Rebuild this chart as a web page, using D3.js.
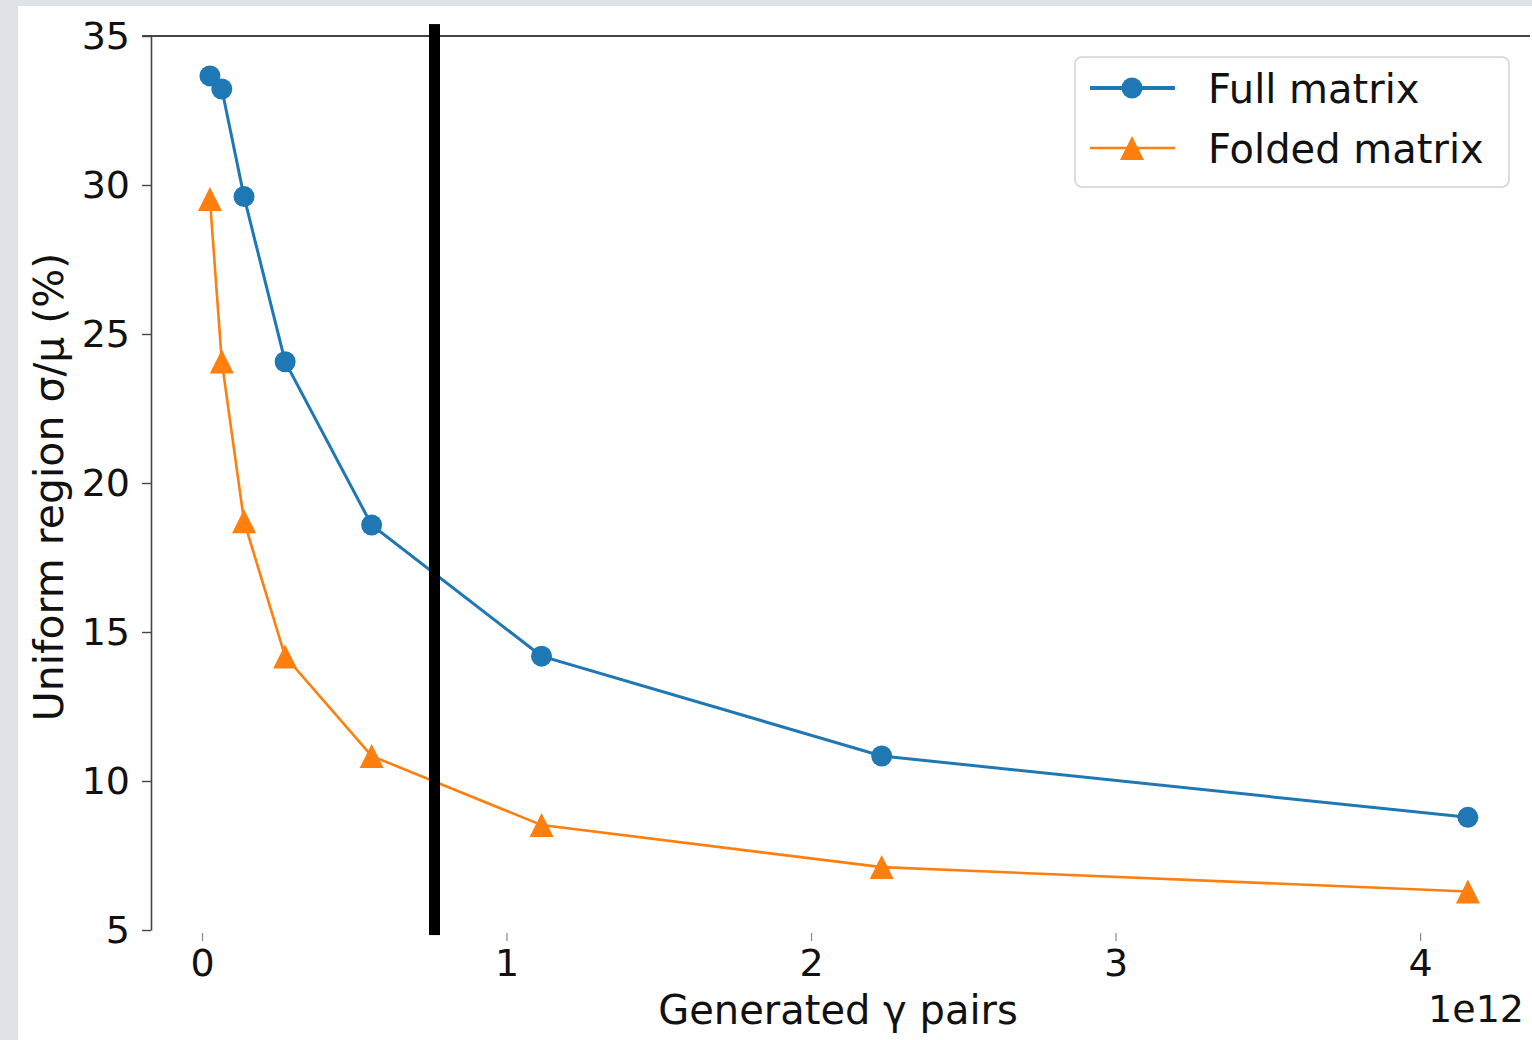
<!DOCTYPE html>
<html>
<head>
<meta charset="utf-8">
<script src="https://cdn.jsdelivr.net/npm/d3@7"></script>
<style>
  html, body { margin: 0; padding: 0; background: #dfe2e6; }
  svg { display: block; }
  text { font-family: "DejaVu Sans", sans-serif; fill: #111; }
</style>
</head>
<body>
<svg id="chart" width="1532" height="1040"></svg>
<script>
// Generated photon pairs (units of 1e12)
const generatedPairs = [0.026, 0.065, 0.138, 0.273, 0.557, 1.115, 2.232, 4.157];
// Uniform-region sigma/mu (%) for each reconstruction
const fullMatrix   = [33.66, 33.22, 29.61, 24.07, 18.59, 14.19, 10.84, 8.78];
const foldedMatrix = [29.53, 24.08, 18.72, 14.18, 10.84, 8.52, 7.11, 6.29];
const seriesNames  = ["Full matrix", "Folded matrix"];
const xTicks = [0, 1, 2, 3, 4];
const yTicks = [5, 10, 15, 20, 25, 30, 35];
// Reference cut marked by the vertical bar
const cutoffX = [0.7635];
const cutoffSpan = [4.83, 35.4];

const svg = d3.select("#chart");
const W = 1532, H = 1040;

// panel background
svg.append("rect").attr("x", 0).attr("y", 0).attr("width", W).attr("height", H).attr("fill", "#dfe2e6");
svg.append("rect").attr("x", 18).attr("y", 6).attr("width", W - 18).attr("height", H - 6).attr("fill", "#ffffff");

const x = d3.scaleLinear().domain([-0.1675, 4.361]).range([151, 1530]);
const y = d3.scaleLinear().domain([5, 35]).range([930, 36]);

const blue = "#1f77b4", orange = "#ff7f0e";

// y axis
const yAxis = svg.append("g")
  .attr("transform", `translate(${x.range()[0]},0)`)
  .call(d3.axisLeft(y).tickValues(yTicks).tickSize(9).tickSizeOuter(0).tickPadding(12));
yAxis.select(".domain").attr("stroke", "#444").attr("stroke-width", 1.6);
yAxis.selectAll(".tick line").attr("stroke", "#444").attr("stroke-width", 1.4);
yAxis.selectAll(".tick text").style("font-size", "38px").attr("fill", "#111");

// top spine
svg.append("line")
  .attr("x1", x.range()[0] - 9).attr("x2", x.range()[1])
  .attr("y1", y(35)).attr("y2", y(35))
  .attr("stroke", "#444").attr("stroke-width", 1.8);

// x axis (tick marks and labels only)
const xAxis = svg.append("g")
  .attr("transform", `translate(0,${y(5) + 3})`)
  .call(d3.axisBottom(x).tickValues(xTicks).tickSize(8).tickPadding(8).tickFormat(d3.format("d")));
xAxis.select(".domain").remove();
xAxis.selectAll(".tick line").attr("stroke", "#888").attr("stroke-width", 1.2);
xAxis.selectAll(".tick text").style("font-size", "38px").attr("fill", "#111");

// axis titles
svg.append("text")
  .attr("x", 838).attr("y", 1024)
  .attr("text-anchor", "middle")
  .style("font-size", "40px")
  .text("Generated γ pairs");
svg.append("text")
  .attr("transform", "translate(63,487) rotate(-90)")
  .attr("text-anchor", "middle")
  .style("font-size", "41px")
  .text("Uniform region σ/μ (%)");
svg.append("text")
  .attr("x", 1524).attr("y", 1022)
  .attr("text-anchor", "end")
  .style("font-size", "38px")
  .text("1e12");

const line = d3.line().x(d => x(d[0])).y(d => y(d[1]));
const fullPts = generatedPairs.map((v, i) => [v, fullMatrix[i]]);
const foldedPts = generatedPairs.map((v, i) => [v, foldedMatrix[i]]);

svg.append("path").datum(fullPts).attr("d", line)
  .attr("fill", "none").attr("stroke", blue).attr("stroke-width", 3);
svg.append("path").datum(foldedPts).attr("d", line)
  .attr("fill", "none").attr("stroke", orange).attr("stroke-width", 2.6);

svg.append("g").selectAll("circle").data(fullPts).join("circle")
  .attr("cx", d => x(d[0])).attr("cy", d => y(d[1])).attr("r", 10.5)
  .attr("fill", blue);

const tri = d => { const s = 12; return `M0,${-s}L${s},${s}L${-s},${s}Z`; };
svg.append("g").selectAll("path").data(foldedPts).join("path")
  .attr("transform", d => `translate(${x(d[0])},${y(d[1])})`)
  .attr("d", tri)
  .attr("fill", orange);

// vertical cut bar
svg.append("g").selectAll("rect").data(cutoffX).join("rect")
  .attr("x", d => x(d) - 5.5).attr("width", 11)
  .attr("y", y(cutoffSpan[1])).attr("height", y(cutoffSpan[0]) - y(cutoffSpan[1]))
  .attr("fill", "#000");

// legend
const lg = svg.append("g");
lg.append("rect").attr("x", 1075).attr("y", 57).attr("width", 434).attr("height", 130)
  .attr("rx", 7).attr("fill", "#fff").attr("stroke", "#d4d4d4").attr("stroke-width", 1.6);
const rows = [
  { name: seriesNames[0], color: blue, y: 88, w: 4, marker: "circle" },
  { name: seriesNames[1], color: orange, y: 148, w: 2.6, marker: "tri" }
];
rows.forEach(r => {
  lg.append("line").attr("x1", 1090).attr("x2", 1175).attr("y1", r.y).attr("y2", r.y)
    .attr("stroke", r.color).attr("stroke-width", r.w);
  if (r.marker === "circle") {
    lg.append("circle").attr("cx", 1132).attr("cy", r.y).attr("r", 10.5).attr("fill", r.color);
  } else {
    lg.append("path").attr("transform", `translate(1132,${r.y})`).attr("d", tri()).attr("fill", r.color);
  }
  lg.append("text").attr("x", 1208).attr("y", r.y + 15)
    .style("font-size", "40px").text(r.name);
});
</script>
</body>
</html>
